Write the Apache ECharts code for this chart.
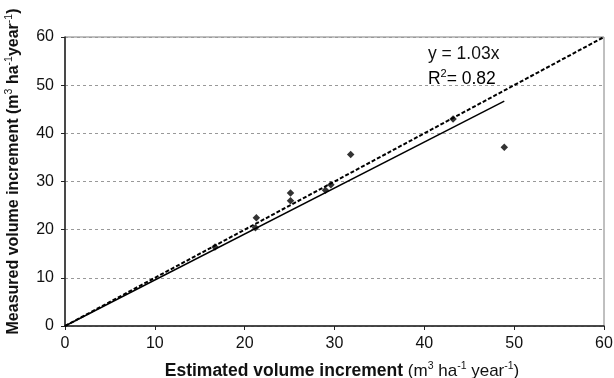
<!DOCTYPE html>
<html><head><meta charset="utf-8">
<script src="https://cdn.jsdelivr.net/npm/echarts@6/dist/echarts.min.js"></script>
<style>html,body{margin:0;padding:0;background:#fff}#c{width:614px;height:378px}</style>
</head><body><div id="c"></div>
<script>
const estimated = [16.7, 21.3, 21.2, 25.1, 25.1, 29.0, 29.6, 31.8, 43.2, 48.9];
const measured  = [16.4, 22.5, 20.4, 27.6, 26.0, 28.2, 29.3, 35.6, 43.0, 37.1];
const oneToOneX = [0, 60];
const oneToOneY = [0, 60];
const fitX = [0, 48.9];
const fitY = [0, 46.7];
const xTicks = [0, 10, 20, 30, 40, 50, 60];
const yTicks = [0, 10, 20, 30, 40, 50, 60];
const eqText = 'y = 1.03x';
const r2Label = '0.82';

const ff = '"Liberation Sans", Arial, sans-serif';
const chart = echarts.init(document.getElementById('c'));
const pts = estimated.map((x, i) => [x, measured[i]]);
const sup = {fontSize: 10.5, fontFamily: ff, verticalAlign: 'top', lineHeight: 20, color: '#111'};
chart.setOption({
  animation: false,
  grid: {left: 65, right: 10, top: 37, bottom: 52, show: true, borderColor: '#808080', borderWidth: 1,
         containLabel: false, outerBoundsMode: 'none'},
  xAxis: {
    type: 'value', min: xTicks[0], max: xTicks[xTicks.length - 1], interval: 10,
    axisLine: {lineStyle: {color: '#222', width: 1.5}},
    axisTick: {show: true, length: 4, lineStyle: {color: '#222'}},
    axisLabel: {fontSize: 16, fontFamily: ff, color: '#111', margin: 10},
    splitLine: {show: false},
    name: '{b|Estimated volume increment }{n|(m}{s|3}{n| ha}{s|-1}{n| year}{s|-1}{n|)}',
    nameLocation: 'middle', nameGap: 35,
    nameTextStyle: {padding: [0, 0, 0, 15], rich: {
      b: {fontSize: 17.5, fontWeight: 'bold', fontFamily: ff, lineHeight: 20, color: '#111'},
      n: {fontSize: 17, fontFamily: ff, lineHeight: 20, color: '#111'},
      s: sup
    }}
  },
  yAxis: {
    type: 'value', min: yTicks[0], max: yTicks[yTicks.length - 1], interval: 10,
    axisLine: {show: true, lineStyle: {color: '#222', width: 1.5}},
    axisTick: {show: true, length: 4, lineStyle: {color: '#222'}},
    axisLabel: {fontSize: 16, fontFamily: ff, color: '#111', margin: 11},
    splitLine: {show: true, lineStyle: {color: '#999', type: [3, 3], width: 1}},
    name: '{b|Measured volume increment (m}{s|3}{b| ha}{s|-1}{b|year}{s|-1}{b|)}',
    nameLocation: 'middle', nameGap: 41, nameRotate: 90,
    nameTextStyle: {padding: [0, 0, 0, 20], rich: {
      b: {fontSize: 16, fontWeight: 'bold', fontFamily: ff, lineHeight: 20, color: '#111'},
      s: sup
    }}
  },
  series: [
    {type: 'line', data: oneToOneX.map((x, i) => [x, oneToOneY[i]]), symbol: 'none',
     lineStyle: {color: '#000', width: 2, type: [4, 2]}, z: 3},
    {type: 'line', data: fitX.map((x, i) => [x, fitY[i]]), symbol: 'none',
     lineStyle: {color: '#000', width: 1.5}, z: 3},
    {type: 'scatter', data: pts, symbol: 'diamond', symbolSize: 7.5,
     itemStyle: {color: '#000'}, z: 4}
  ]
});
const p = chart.convertToPixel({gridIndex: 0}, [40.4, 55.5]);
chart.setOption({graphic: [
  {type: 'text', left: p[0], top: p[1] - 14,
   style: {text: eqText, fontSize: 17.5, fontFamily: ff, fill: '#111'}},
  {type: 'text', left: p[0], top: p[1] + 10,
   style: {text: '{n|R}{s|2}{n|= ' + r2Label + '}', fontFamily: ff,
     rich: {n: {fontSize: 17.5, fontFamily: ff, lineHeight: 20, color: '#111'},
            s: {fontSize: 11, fontFamily: ff, verticalAlign: 'top', lineHeight: 20, color: '#111'}}}}
]});
</script></body></html>
